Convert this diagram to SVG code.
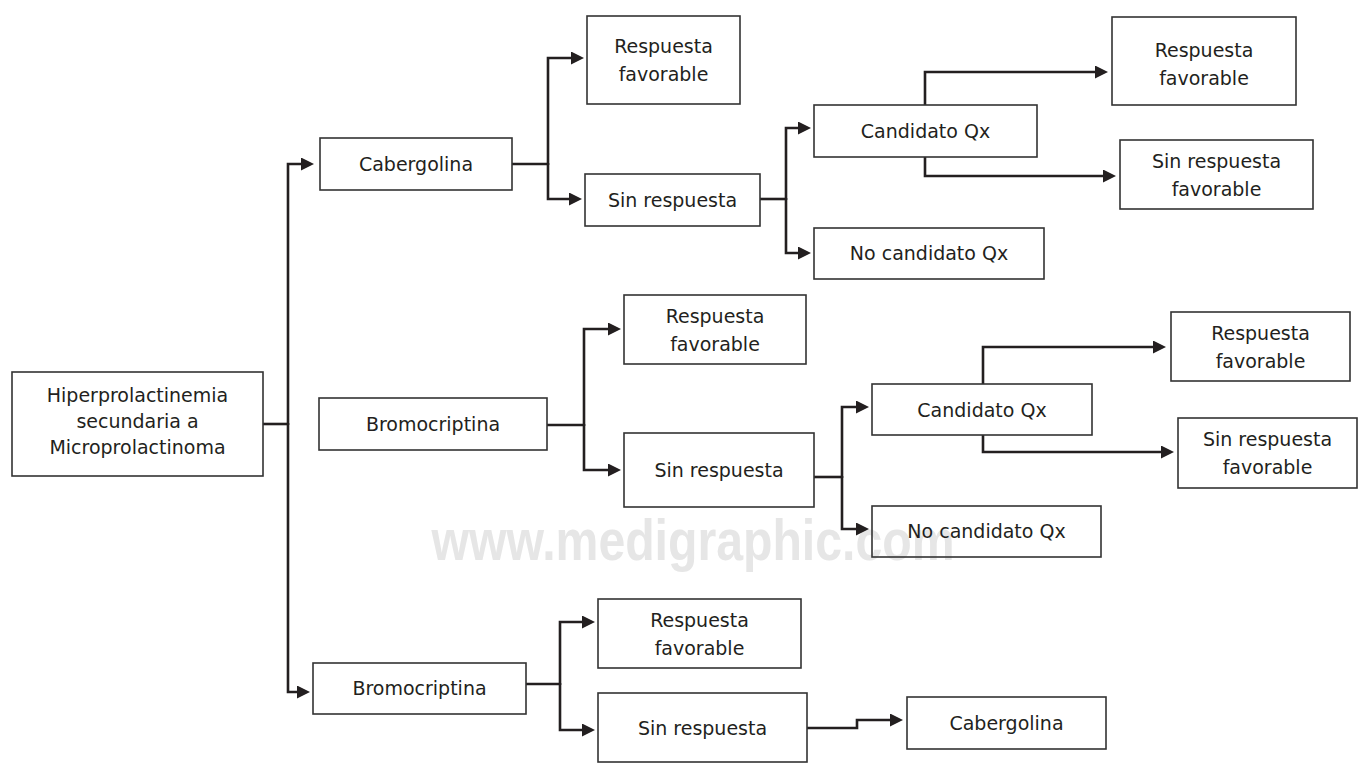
<svg xmlns="http://www.w3.org/2000/svg" width="1360" height="765" viewBox="0 0 1360 765">
<style>
.box{fill:none;stroke:#333;stroke-width:1.6}
.t{font-family:"DejaVu Sans","Liberation Sans",sans-serif;font-size:19px;fill:#231f20;text-anchor:middle}
.c{fill:none;stroke:#231f20;stroke-width:2.6;marker-end:url(#ah)}
.n{fill:none;stroke:#231f20;stroke-width:2.6}
.wm{font-family:"Liberation Sans",Arial,sans-serif;font-weight:bold;font-size:57px;fill:#e6e6e6;text-anchor:middle}
</style>
<defs>
<marker id="ah" markerUnits="userSpaceOnUse" markerWidth="14" markerHeight="14" refX="8" refY="6.5" orient="auto">
<path d="M0,0 L13,6.5 L0,13 Z" fill="#231f20"/>
</marker>
</defs>
<rect width="1360" height="765" fill="#fff"/>
<text class="wm" x="693" y="560" textLength="523" lengthAdjust="spacingAndGlyphs">www.medigraphic.com</text>

<g id="connectors">
<path class="n" d="M263,424 H288"/>
<path class="c" d="M288,425 V164 H309"/>
<path class="c" d="M288,423 V692 H305"/>
<path class="n" d="M512,164 H548"/>
<path class="c" d="M548,165 V58 H579"/>
<path class="c" d="M548,163 V199 H577"/>
<path class="n" d="M760,199 H786"/>
<path class="c" d="M786,200 V128 H806"/>
<path class="c" d="M786,198 V253 H806"/>
<path class="c" d="M925,105 V72 H1103"/>
<path class="c" d="M925,157 V176 H1111"/>
<path class="n" d="M547,425 H584"/>
<path class="c" d="M584,426 V329 H616"/>
<path class="c" d="M584,424 V470 H616"/>
<path class="n" d="M814,477 H842"/>
<path class="c" d="M842,478 V407 H864"/>
<path class="c" d="M842,476 V529 H864"/>
<path class="c" d="M983,384 V347 H1161"/>
<path class="c" d="M983,435 V452 H1169"/>
<path class="n" d="M526,684 H560"/>
<path class="c" d="M560,685 V622 H590"/>
<path class="c" d="M560,683 V730 H590"/>
<path class="c" d="M807,728 H857 V720 H898"/>
</g>

<g id="root">
<rect class="box" x="12" y="372" width="251" height="104"/>
<text class="t" x="137.5" y="402">Hiperprolactinemia</text>
<text class="t" x="137.5" y="428">secundaria a</text>
<text class="t" x="137.5" y="454">Microprolactinoma</text>
</g>

<g id="cabergolina1">
<rect class="box" x="320" y="138" width="192" height="52"/>
<text class="t" x="416" y="171">Cabergolina</text>
</g>
<g id="resp1">
<rect class="box" x="587" y="16" width="153" height="88"/>
<text class="t" x="663.5" y="53">Respuesta</text>
<text class="t" x="663.5" y="81">favorable</text>
</g>
<g id="sinresp1">
<rect class="box" x="585" y="174" width="175" height="52"/>
<text class="t" x="672.5" y="207">Sin respuesta</text>
</g>
<g id="cand1">
<rect class="box" x="814" y="105" width="223" height="52"/>
<text class="t" x="925.5" y="138">Candidato Qx</text>
</g>
<g id="nocand1">
<rect class="box" x="814" y="228" width="230" height="51"/>
<text class="t" x="929" y="260">No candidato Qx</text>
</g>
<g id="resp1b">
<rect class="box" x="1112" y="17" width="184" height="88"/>
<text class="t" x="1204" y="57">Respuesta</text>
<text class="t" x="1204" y="85">favorable</text>
</g>
<g id="sinfav1">
<rect class="box" x="1120" y="140" width="193" height="69"/>
<text class="t" x="1216.5" y="168">Sin respuesta</text>
<text class="t" x="1216.5" y="196">favorable</text>
</g>

<g id="bromo2">
<rect class="box" x="319" y="398" width="228" height="52"/>
<text class="t" x="433" y="431">Bromocriptina</text>
</g>
<g id="resp2">
<rect class="box" x="624" y="295" width="182" height="69"/>
<text class="t" x="715" y="323">Respuesta</text>
<text class="t" x="715" y="351">favorable</text>
</g>
<g id="sinresp2">
<rect class="box" x="624" y="433" width="190" height="74"/>
<text class="t" x="719" y="477">Sin respuesta</text>
</g>
<g id="cand2">
<rect class="box" x="872" y="384" width="220" height="51"/>
<text class="t" x="982" y="417">Candidato Qx</text>
</g>
<g id="nocand2">
<rect class="box" x="872" y="506" width="229" height="51"/>
<text class="t" x="986.5" y="538">No candidato Qx</text>
</g>
<g id="resp2b">
<rect class="box" x="1171" y="312" width="179" height="69"/>
<text class="t" x="1260.5" y="340">Respuesta</text>
<text class="t" x="1260.5" y="368">favorable</text>
</g>
<g id="sinfav2">
<rect class="box" x="1178" y="418" width="179" height="70"/>
<text class="t" x="1267.5" y="446">Sin respuesta</text>
<text class="t" x="1267.5" y="474">favorable</text>
</g>

<g id="bromo3">
<rect class="box" x="313" y="663" width="213" height="51"/>
<text class="t" x="419.5" y="695">Bromocriptina</text>
</g>
<g id="resp3">
<rect class="box" x="598" y="599" width="203" height="69"/>
<text class="t" x="699.5" y="627">Respuesta</text>
<text class="t" x="699.5" y="655">favorable</text>
</g>
<g id="sinresp3">
<rect class="box" x="598" y="693" width="209" height="69"/>
<text class="t" x="702.5" y="735">Sin respuesta</text>
</g>
<g id="cabergolina3">
<rect class="box" x="907" y="697" width="199" height="52"/>
<text class="t" x="1006.5" y="730">Cabergolina</text>
</g>
</svg>
